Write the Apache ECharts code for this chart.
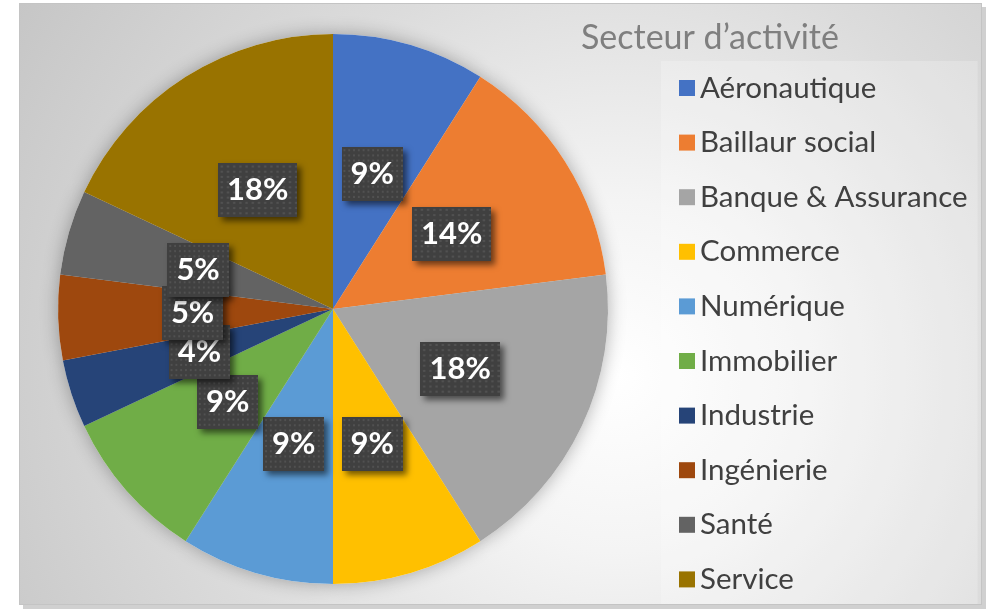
<!DOCTYPE html>
<html>
<head>
<meta charset="utf-8">
<script src="https://cdn.jsdelivr.net/npm/echarts@6/dist/echarts.min.js"></script>
<style>
  html, body { margin: 0; padding: 0; background: #ffffff; }
  #chart {
    position: absolute;
    left: 19px;
    top: 3px;
    width: 961px;
    height: 600px;
    border: 1px solid #c4c4c4;
    box-shadow: 4px 4px 0 #d0d0d0;
    background: radial-gradient(circle at 62% 62%, #ffffff 0%, #f4f4f4 25%, #dcdcdc 60%, #c6c6c6 100%);
  }
</style>
</head>
<body>
<div id="chart"></div>
<script>
const sectors = ['Aéronautique', 'Baillaur social', 'Banque & Assurance', 'Commerce', 'Numérique', 'Immobilier', 'Industrie', 'Ingénierie', 'Santé', 'Service']
const shares = [9, 14, 18, 9, 9, 9, 4, 5, 5, 18]
const colors = ['#4472C4', '#ED7D31', '#A5A5A5', '#FFC000', '#5B9BD5', '#70AD47', '#264478', '#9E480E', '#636363', '#997300']

// dotted dark fill for the data labels
function dottedTile(w, h) {
  const c = document.createElement('canvas')
  c.width = w
  c.height = h
  const ctx = c.getContext('2d')
  ctx.fillStyle = '#404040'
  ctx.fillRect(0, 0, w, h)
  ctx.fillStyle = '#515151'
  for (let y = 2; y < h; y += 5) {
    for (let x = 2; x < w; x += 5) {
      ctx.fillRect(x, y, 2, 2)
    }
  }
  return c
}

const chart = echarts.init(document.getElementById('chart'))
const font = 'Lato, "Noto Sans", sans-serif'
const pieData = sectors.map((name, i) => ({ name, value: shares[i], itemStyle: { color: colors[i] } }))

chart.setOption({
  title: {
    text: 'Secteur d’activité',
    left: 556,
    top: 12,
    textStyle: { fontFamily: font, fontSize: 34, fontWeight: 'normal', color: '#7f7f7f' },
  },
  legend: {
    orient: 'vertical',
    left: 641,
    top: 57,
    height: 560,
    padding: [12, 10, 10, 18],
    backgroundColor: 'rgba(255,255,255,0.22)',
    icon: 'rect',
    itemWidth: 16,
    itemHeight: 16,
    itemGap: 24.6,
    selectedMode: false,
    textStyle: { fontFamily: font, fontSize: 29.5, color: '#404040', lineHeight: 30 },
    data: sectors,
  },
  series: [
    {
      // shadow underlay
      type: 'pie',
      center: [313, 305],
      radius: 275,
      startAngle: 90,
      silent: true,
      label: { show: false },
      itemStyle: { color: '#ffffff', shadowBlur: 18, shadowColor: 'rgba(0,0,0,0.3)' },
      data: shares.map(v => ({ value: v })),
      legendHoverLink: false,
    },
    {
      type: 'pie',
      center: [313, 305],
      radius: 275,
      startAngle: 90,
      clockwise: true,
      avoidLabelOverlap: false,
      labelLayout: { hideOverlap: false },
      labelLine: { show: false },
      label: {
        show: true,
        position: 'inside',
        formatter: p => Math.round(p.percent) + '%',
        fontFamily: font,
        fontSize: 31,
        fontWeight: 'bold',
        color: '#ffffff',
        backgroundColor: { image: dottedTile(64, 52) },
        padding: [12, 9, 11, 9],
        shadowColor: 'rgba(0,0,0,0.55)',
        shadowBlur: 6,
        shadowOffsetX: 4,
        shadowOffsetY: 4,
      },
      emphasis: { disabled: true },
      data: pieData,
    },
  ],
  animation: false,
})
</script>
</body>
</html>
